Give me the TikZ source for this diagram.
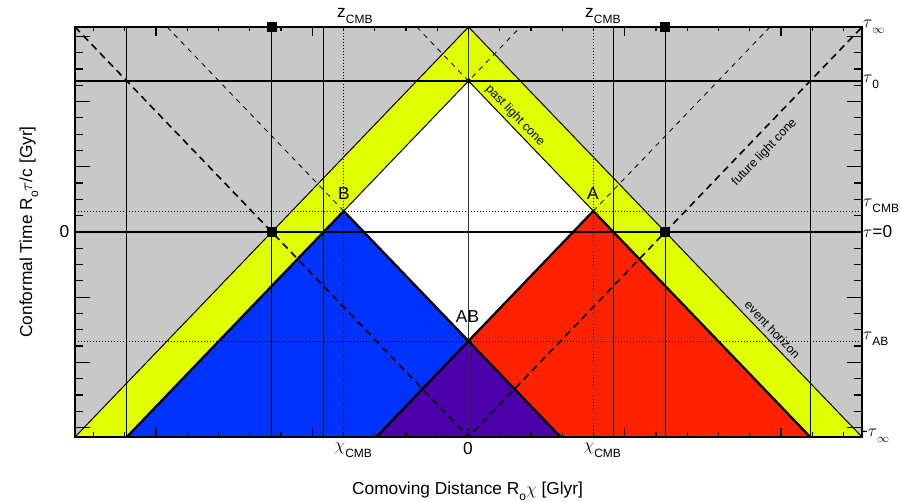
\documentclass[tikz,border=0pt]{standalone}
\usepackage{fontspec}
\setmainfont{Liberation Sans}
\definecolor{bggrey}{RGB}{200,200,200}
\definecolor{cyellow}{RGB}{224,255,0}
\definecolor{cblue}{RGB}{0,51,255}
\definecolor{cred}{RGB}{255,34,0}
\definecolor{cpurple}{RGB}{76,0,170}
\newcommand{\lowsub}[1]{\raisebox{-6pt}{\fontsize{12}{12}\selectfont #1}}
\begin{document}
\begin{tikzpicture}[x=1pt,y=-1pt,
  thinline/.style={line width=1pt},
  gridline/.style={line width=1.1pt},
  thickedge/.style={line width=2.3pt, line join=miter},
  bigdash/.style={line width=1.6pt, dash pattern=on 7pt off 5pt},
  smalldash/.style={line width=0.8pt, dash pattern=on 5pt off 5pt},
  dotline/.style={line width=0.8pt, dash pattern=on 1.2pt off 1.8pt},
  lbl/.style={font=\fontsize{17.3}{19}\selectfont, inner sep=0pt},
  smalllbl/.style={font=\fontsize{12.3}{14}\selectfont, inner sep=0pt},
  sq/.style={fill=black, rectangle, minimum size=10pt, inner sep=0pt},
  blackdot/.style={fill=black, circle, minimum size=5pt, inner sep=0pt}
]
\useasboundingbox (0,0) rectangle (900,502);
% key points
\coordinate (TL) at (75,27);
\coordinate (TR) at (862,27);
\coordinate (BL) at (75,437);
\coordinate (BR) at (862,437);
\coordinate (top) at (468.5,27);
\coordinate (bot) at (468.5,437);
\coordinate (apex) at (468.5,81);
\coordinate (pcL) at (126.8,437);
\coordinate (pcR) at (810.2,437);
\coordinate (Bpt) at (343.7,211);
\coordinate (Apt) at (593.3,211);
\coordinate (ABpt) at (468.5,341);
\coordinate (bR) at (560.6,437);
\coordinate (rL) at (376.4,437);
\coordinate (dBtop) at (167.1,27);
\coordinate (dAtop) at (769.9,27);
\coordinate (apL) at (416.7,27);
\coordinate (apR) at (520.3,27);
% regions
\fill[bggrey] (TL) rectangle (BR);
\fill[cyellow] (BL) -- (top) -- (BR) -- cycle;
\fill[white] (pcL) -- (apex) -- (pcR) -- cycle;
\fill[cblue] (pcL) -- (Bpt) -- (bR) -- cycle;
\fill[cred] (rL) -- (Apt) -- (pcR) -- cycle;
\fill[cpurple] (rL) -- (ABpt) -- (bR) -- cycle;
% dotted lines
\draw[dotline] (343.7,27) -- (343.7,437);
\draw[dotline] (593.3,27) -- (593.3,437);
\draw[dotline] (75,211) -- (862,211);
\draw[dotline] (75,341) -- (862,341);
% dashed lines
\draw[smalldash] (dBtop) -- (Bpt);
\draw[smalldash] (dAtop) -- (Apt);
\draw[smalldash] (apL) -- (apex) -- (apR);
\draw[bigdash] (TL) -- (bot) -- (TR);
% grid lines
\foreach \xx in {126.8,271.8,323.6,613.4,665.2,810.2}
  \draw[gridline] (\xx,27) -- (\xx,437);
\draw[line width=1pt, black!80] (top) -- (bot);
\draw[line width=1.3pt] (75,81) -- (862,81);
\draw[line width=1.8pt] (75,232) -- (862,232);
% light cones
\draw[thinline] (BL) -- (top) -- (BR);
\draw[thinline] (Bpt) -- (apex) -- (Apt);
\draw[thickedge] (pcL) -- (Bpt) -- (bR);
\draw[thickedge] (rL) -- (Apt) -- (pcR);
% frame and ticks
\foreach \n in {-12,...,12} {
  \pgfmathsetmacro\yy{232+16.3*\n}
  \pgfmathsetmacro\ln{ifthenelse(mod(\n,4)==0,15,8)}
  \draw[line width=1.2pt] (75,\yy) -- ++(\ln,0);
  \draw[line width=1.2pt] (862,\yy) -- ++(-\ln,0);
  \pgfmathsetmacro\xx{468.5+31.25*\n}
  \pgfmathsetmacro\lx{ifthenelse(mod(\n,5)==0,9,4.5)}
  \draw[line width=1.2pt] (\xx,437) -- ++(0,-\lx);
  \draw[line width=1.2pt] (\xx,27) -- ++(0,\lx);
}
\draw[line width=1.5pt] (TL) rectangle (BR);
% markers
\node[sq] (sq1) at (271.8,27) {};
\node[sq] (sq2) at (665.2,27) {};
\node[sq] (sq3) at (271.8,232) {};
\node[sq] (sq4) at (665.2,232) {};
\node[blackdot] (d1) at (apex) {};
\node[blackdot] (d2) at (ABpt) {};
% point labels
\node[lbl, anchor=base] (lB) at (344,200) {B};
\node[lbl, anchor=base] (lA) at (593,200) {A};
\node[lbl, anchor=base] (lAB) at (467.5,323) {AB};
% curve labels
\node[smalllbl, rotate=-46.2] (plc) at (515,116) {past light cone};
\node[smalllbl, rotate=46.2] (flc) at (764.5,152.5) {future light cone};
\node[smalllbl, rotate=-46.2] (eh) at (772.5,329.5) {event horizon};
% top labels
\node[lbl, anchor=base west] (z1) at (337,18) {z\lowsub{CMB}};
\node[lbl, anchor=base west] (z2) at (585,18) {z\lowsub{CMB}};
% bottom labels
\node[lbl, anchor=base west] (c1) at (334.5,451) {$\chi$\lowsub{CMB}};
\node[lbl, anchor=base west] (c2) at (583.5,451) {$\chi$\lowsub{CMB}};
\node[lbl, anchor=base] (c0) at (468,455) {0};
% left label
\node[lbl, anchor=base east] (y0) at (69.5,238) {0};
% right labels
\node[lbl, anchor=base west] (r1) at (863,28) {$\tau$\lowsub{$\infty$}};
\node[lbl, anchor=base west] (r2) at (863,83) {$\tau$\lowsub{0}};
\node[lbl, anchor=base west] (r3) at (863,207) {$\tau$\lowsub{CMB}};
\node[lbl, anchor=base west] (r4) at (863,238) {$\tau$=0};
\node[lbl, anchor=base west] (r5) at (863,340) {$\tau$\lowsub{AB}};
\node[lbl, anchor=base west] (r6) at (862,437) {-$\tau$\lowsub{$\infty$}};
% axis titles
\node[lbl, anchor=base, rotate=90] (ytitle) at (32,232) {Conformal Time R\lowsub{o}$\tau$/c [Gyr]};
\node[lbl, anchor=base] (xtitle) at (467.5,494) {Comoving Distance R\lowsub{o}$\chi$ [Glyr]};
\end{tikzpicture}
\end{document}
